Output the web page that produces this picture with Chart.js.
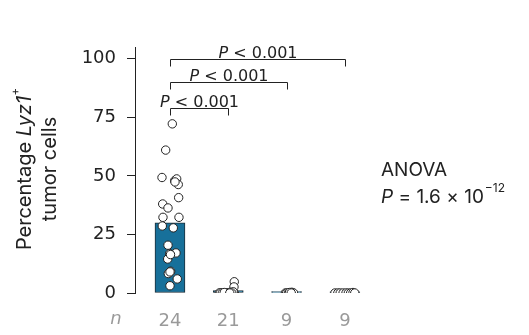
<!DOCTYPE html>
<html>
<head>
<meta charset="utf-8">
<script src="https://cdn.jsdelivr.net/npm/chart.js@4.4.1/dist/chart.umd.min.js"></script>
<style>
  html, body { margin: 0; padding: 0; background: #fff; }
  #wrap { width: 529px; height: 335px; position: relative; }
</style>
</head>
<body>
<div id="wrap"><canvas id="LyzCanvas"></canvas></div>
<script>
// group sizes shown under the x axis
var nLabels = ["24", "21", "9", "9"];
// bar heights (group means, %)
var barMeans = [30, 1.0, 0.6, 0.5];

// per-animal values and their horizontal jitter (in category units)
var g1Values = [72.2, 61, 49.3, 47.9, 48.7, 46.3, 40.7, 38, 36.3, 32.3, 32.3, 28.6, 27.8, 20.4, 17.1, 16.8, 14.5, 8.3, 9.3, 6, 3.1, 47.4, 16.4, 9.0];
var g1Jitter = [0.04, -0.074, -0.137, 0.08, 0.115, 0.142, 0.149, -0.125, -0.034, -0.12, 0.154, -0.132, 0.057, -0.034, 0.103, -0.005, -0.039, -0.029, 0.012, 0.125, 0, 0.086, 0.009, 0];
var g2Values = [4.8, 2.6, 0, 0, 0, 0, 0, 0, 0, 0, 0, 0, 0.3, 0.2, 0, 0, 0.5, 0, 0, 0.2, 0];
var g2Jitter = [0.103, 0.098, -0.154, -0.12, -0.034, 0.051, 0.091, -0.137, -0.086, -0.017, 0, 0.017, 0.034, 0.069, 0.103, -0.051, 0.086, -0.103, 0.06, -0.069, 0.026];
var g3Values = [0, 0, 0, 0, 0.3, 0, 0, 0.2, 0];
var g3Jitter = [-0.02, 0.0, 0.03, 0.06, 0.09, 0.11, 0.12, 0.05, 0.08];
var g4Values = [0, 0, 0, 0, 0, 0, 0, 0.2, 0];
var g4Jitter = [-0.17, -0.12, -0.08, -0.03, 0.02, 0.06, 0.1, 0.14, 0.17];

// significance brackets: from group, to group, height (%), label
var brackets = [
    { from: 0, to: 3, level: 100, text: "< 0.001" },
    { from: 0, to: 2, level: 90.2, text: "< 0.001" },
    { from: 0, to: 1, level: 79, text: "< 0.001" }
];

var yTicks = [0, 25, 50, 75, 100];
var NUMFONT = "'DejaVu Sans', sans-serif";
var FONT = "Inter, 'Liberation Sans', sans-serif";
var INK = "#222";

var pointSets = [[g1Values, g1Jitter], [g2Values, g2Jitter], [g3Values, g3Jitter], [g4Values, g4Jitter]];
var points = [];
pointSets.forEach(function (set, gi) {
    set[0].forEach(function (v, i) {
        points.push({ x: gi + set[1][i], y: v });
    });
});

var extras = {
    id: "extras",
    afterDraw: function (chart) {
        var ctx = chart.ctx;
        var xs = chart.scales.x, ys = chart.scales.y;
        ctx.save();
        ctx.fillStyle = INK;
        ctx.strokeStyle = INK;

        // brackets
        ctx.lineWidth = 1;
        brackets.forEach(function (b) {
            var x1 = Math.round(xs.getPixelForValue(b.from)) + 0.5, x2 = Math.round(xs.getPixelForValue(b.to)) + 0.5;
            var y = Math.round(ys.getPixelForValue(b.level)) + 0.5;
            ctx.beginPath();
            ctx.moveTo(x1, y + 7); ctx.lineTo(x1, y); ctx.lineTo(x2, y); ctx.lineTo(x2, y + 7);
            ctx.stroke();
            ctx.font = "oblique 16px " + NUMFONT;
            var wP = ctx.measureText("P ").width;
            ctx.font = "16px " + NUMFONT;
            var wT = ctx.measureText(b.text).width;
            var sx = (x1 + x2) / 2 - (wP + wT) / 2;
            ctx.textBaseline = "alphabetic";
            ctx.textAlign = "left";
            ctx.font = "oblique 16px " + NUMFONT;
            ctx.fillText("P", sx, y - 2);
            ctx.font = "16px " + NUMFONT;
            ctx.fillText(b.text, sx + wP, y - 2);
        });

        // y title, two lines, rotated
        ctx.save();
        ctx.translate(25, 169);
        ctx.rotate(-Math.PI / 2);
        ctx.textBaseline = "middle";
        ctx.textAlign = "left";
        var parts = [["Percentage ", "20px "], ["Lyz1", "italic 20px "]];
        var total = 0;
        parts.forEach(function (p) { ctx.font = p[1] + FONT; total += ctx.measureText(p[0]).width; });
        ctx.font = "12px " + FONT;
        total += ctx.measureText("+").width;
        var px = -total / 2;
        parts.forEach(function (p) {
            ctx.font = p[1] + FONT;
            ctx.fillText(p[0], px, 0);
            px += ctx.measureText(p[0]).width;
        });
        ctx.font = "12px " + FONT;
        ctx.fillText("+", px, -10);
        ctx.font = "20px " + FONT;
        ctx.textAlign = "center";
        ctx.fillText("tumor cells", 0, 25);
        ctx.restore();

        // ANOVA note
        ctx.textAlign = "left";
        ctx.textBaseline = "alphabetic";
        ctx.font = "19px " + FONT;
        ctx.fillText("ANOVA", 381, 176);
        ctx.font = "italic 19px " + FONT;
        ctx.fillText("P", 381, 203);
        var ax = 381 + ctx.measureText("P").width;
        ctx.font = "19px " + FONT;
        var s = " = 1.6 \u00d7 10";
        ctx.fillText(s, ax, 203);
        ax += ctx.measureText(s).width;
        ctx.font = "12px " + FONT;
        ctx.fillText("\u221212", ax + 1, 192);

        // n row label
        ctx.fillStyle = "#9a9a9a";
        ctx.font = "oblique 18px " + NUMFONT;
        ctx.textAlign = "center";
        ctx.fillText("n", 116, 324);
        ctx.restore();
    }
};

new Chart(document.getElementById("LyzCanvas"), {
    type: "bar",
    data: {
        datasets: [
            {
                type: "scatter",
                data: points,
                backgroundColor: "#ffffff",
                borderColor: INK,
                borderWidth: 1,
                pointRadius: 4.2,
                order: 1
            },
            {
                type: "bar",
                data: barMeans.map(function (m, i) { return { x: i, y: m }; }),
                backgroundColor: "#17709a",
                borderColor: "#1c2c36",
                borderWidth: 1,
                borderSkipped: false,
                barThickness: 30,
                order: 2
            }
        ]
    },
    plugins: [extras],
    options: {
        responsive: true,
        maintainAspectRatio: false,
        animation: false,
        layout: { padding: { left: 0, top: 47, right: 155, bottom: 0 } },
        plugins: { legend: { display: false }, tooltip: { enabled: false } },
        scales: {
            x: {
                type: "linear",
                offset: false,
                min: -0.6,
                max: 3.5,
                grid: { display: false },
                border: { display: false },
                afterBuildTicks: function (s) { s.ticks = [0, 1, 2, 3].map(function (v) { return { value: v }; }); },
                afterFit: function (s) { s.height = 42; },
                ticks: {
                    color: "#9a9a9a",
                    padding: 10,
                    maxRotation: 0,
                    font: { family: NUMFONT, size: 18 },
                    callback: function (v, i) { return nLabels[i]; }
                }
            },
            y: {
                min: 0,
                max: 105,
                afterBuildTicks: function (s) { s.ticks = yTicks.map(function (v) { return { value: v }; }); },
                afterFit: function (s) { s.width = 135; },
                grid: { drawOnChartArea: false, drawTicks: true, tickLength: 8, color: INK, lineWidth: 1 },
                border: { display: true, color: INK, width: 1 },
                ticks: {
                    color: INK,
                    padding: 11,
                    font: { family: NUMFONT, size: 18 }
                }
            }
        }
    }
});
</script>
</body>
</html>
